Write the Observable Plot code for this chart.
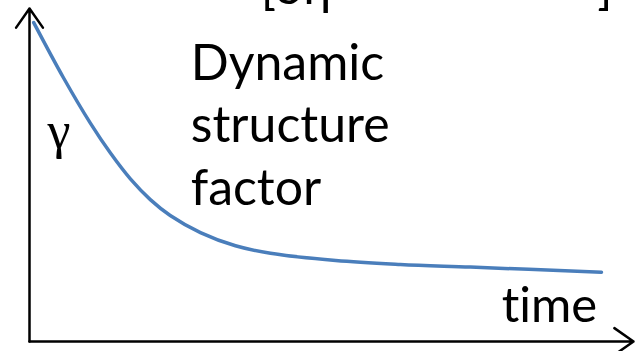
<!DOCTYPE html>
<html>
<head>
<meta charset="utf-8">
<script src="https://cdn.jsdelivr.net/npm/d3@7"></script>
<script src="https://cdn.jsdelivr.net/npm/@observablehq/plot@0.6"></script>
<style>
  html, body { margin: 0; padding: 0; background: #fff; }
  #chart { width: 643px; height: 351px; overflow: hidden; }
  #chart text { font-variant-ligatures: none; font-feature-settings: "liga" 0, "clig" 0; }
</style>
</head>
<body>
<div id="chart"></div>
<script>
// Decay curve (arbitrary units)
const time  = [0.7, 5.6, 10.1, 13.4, 16.7, 20.0, 23.3, 28.3, 34.1, 39.9, 50.7, 61.4, 73.0, 94.7];
const gamma = [106.3, 88.0, 72.7, 62.8, 54.2, 47.3, 42.0, 36.3, 31.9, 29.4, 27.0, 25.7, 24.8, 23.1];

const xLabel = "time";
const yLabel = "\u03b3";
const noteLines = ["Dynamic", "structure", "factor"];
const topLeft = "[\u03b4\u03b7";
const topRight = "]";

const curve = time.map((t, i) => ({t, g: gamma[i]}));
const sans = "Lato, 'Open Sans', sans-serif";

const chart = Plot.plot({
  width: 643,
  height: 351,
  margin: 0,
  x: {domain: [0, 100], range: [29, 633], axis: null},
  y: {domain: [0, 111], range: [341, 8], axis: null},
  style: {background: "#fff", overflow: "visible"},
  marks: [
    Plot.arrow([{x1: 0, y1: 0, x2: 0, y2: 111}], {x1: "x1", y1: "y1", x2: "x2", y2: "y2", stroke: "#000", strokeWidth: 2.5, headLength: 14, headAngle: 70}),
    Plot.arrow([{x1: 0, y1: 0, x2: 100, y2: 0}], {x1: "x1", y1: "y1", x2: "x2", y2: "y2", stroke: "#000", strokeWidth: 2.5, headLength: 14, headAngle: 70}),
    Plot.line(curve, {x: "t", y: "g", stroke: "#4a7ebb", strokeWidth: 3.5, curve: "catmull-rom"}),
    Plot.text([noteLines.join("\n")], {x: 26.7, y: 102, text: d => d, textAnchor: "start", lineAnchor: "top", lineHeight: 1.25, fontSize: 50, fontFamily: sans, fill: "#000"}),
    Plot.text([xLabel], {x: 94.0, y: 11.7, text: d => d, textAnchor: "end", lineAnchor: "middle", fontSize: 49, fontFamily: sans, fill: "#000"}),
    Plot.text([yLabel], {x: 3.0, y: 70, text: d => d, textAnchor: "start", lineAnchor: "middle", fontSize: 52, fontFamily: "'Liberation Serif', serif", fill: "#000"}),
    Plot.text([topLeft], {x: 38.3, y: 118, text: d => d, textAnchor: "start", lineAnchor: "middle", fontSize: 50, fontFamily: sans, fill: "#000"}),
    Plot.text([topRight], {x: 94.0, y: 118, text: d => d, textAnchor: "start", lineAnchor: "middle", fontSize: 50, fontFamily: sans, fill: "#000"})
  ]
});
document.getElementById("chart").appendChild(chart);
</script>
</body>
</html>
